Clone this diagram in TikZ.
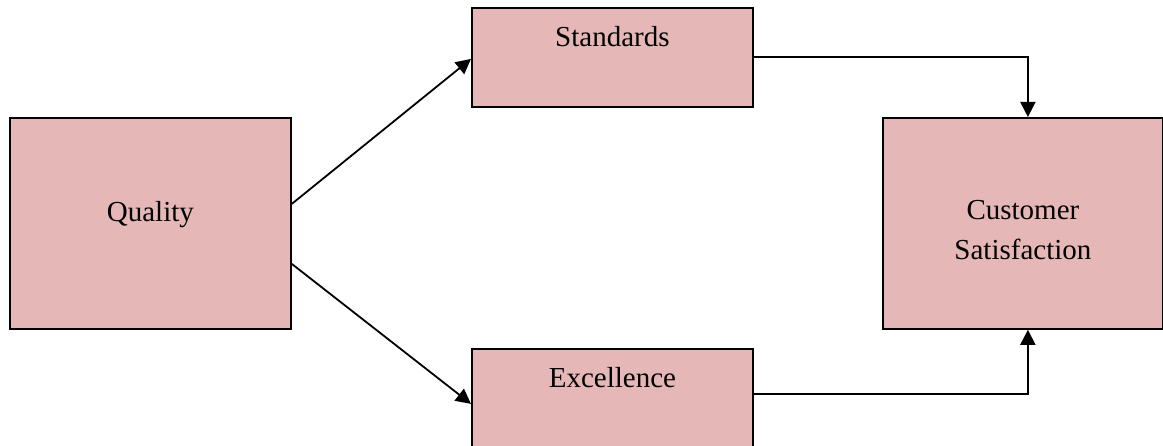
\documentclass[tikz,border=0pt]{standalone}
\usepackage{fontspec}
\setmainfont{Liberation Serif}
\usetikzlibrary{arrows.meta}
\definecolor{boxpink}{HTML}{E5B8B7}
\tikzset{
  box/.style={draw=black, line width=1.8pt, fill=boxpink, inner sep=3pt,
    font=\fontsize{29}{40}\selectfont, align=center},
  arr/.style={line width=1.8pt, -{Triangle[length=15pt,width=15pt]}}
}
\begin{document}
\begin{tikzpicture}[x=1pt,y=-1pt]
\useasboundingbox (0,0) rectangle (1163,446);
%Quality
\node[box, anchor=north west, minimum width=281pt, text height=101pt, text depth=104pt] (qual) at (9,117) {Quality};
%Standards and Excellence
\node[box, anchor=north west, minimum width=281pt, text height=36pt, text depth=57pt] (std) at (471,7) {Standards};
\node[box, anchor=north west, minimum width=281pt, text height=36pt, text depth=62pt] (exc) at (471,348) {Excellence};
%Customer Satisfaction
\node[box, anchor=north west, minimum width=280pt, text height=139pt, text depth=66pt] (cust) at (882,117) {Customer\\Satisfaction};
%Arrows
\draw[arr] ([yshift=19.5pt]qual.east) -- ([yshift=-1.5pt]std.west);
\draw[arr] ([yshift=-40.5pt]qual.east) -- ([yshift=-3pt]exc.west);
\draw[arr] (std.east) -| ([xshift=5pt]cust.north);
\draw[arr] ([yshift=7pt]exc.east) -| ([xshift=5pt]cust.south);
\end{tikzpicture}
\end{document}
